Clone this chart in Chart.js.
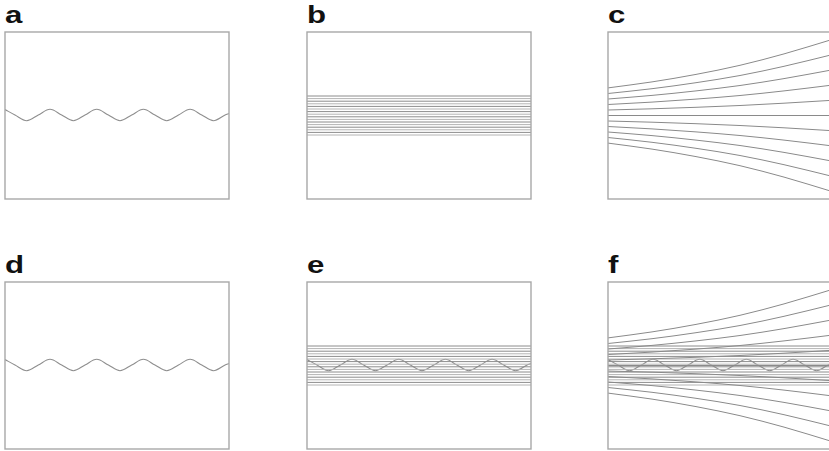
<!DOCTYPE html>
<html>
<head>
<meta charset="utf-8">
<script src="https://cdn.jsdelivr.net/npm/chart.js@4.4.1/dist/chart.umd.min.js"></script>
<style>
  html, body { margin: 0; padding: 0; background: #fff; overflow: hidden; }
  body { width: 829px; height: 451px; position: relative; }
  .lbl { position: absolute; font-family: "Liberation Sans", Arial, sans-serif; font-weight: bold;
         font-size: 24px; line-height: 24px; color: #111;
         transform: scaleX(1.3); transform-origin: 0 0; }
  canvas { position: absolute; }
</style>
</head>
<body>
<script>
// panel letters
var panelLabels = ["a", "b", "c", "d", "e", "f"];

var waveX = [0, 10, 21.7, 33.3, 45, 56.7, 68.4, 80, 91.7, 103.4, 115, 126.7, 138.4, 150, 161.7, 173.5, 185.1, 196.8, 208.5, 220.1, 224];
var waveY = [6, 0.5, -5.2, 0.5, 6.2, 0.5, -5.2, 0.5, 6.2, 0.5, -5.2, 0.5, 6.2, 0.5, -5.2, 0.5, 6.2, 0.5, -5.2, 0.5, 2];

// flat lines of panel b / e
var levelY = [19.5, 16.9, 14.3, 11.7, 9.1, 6.5, 3.9, 1.3, -1.3, -3.9, -6.5, -9.1, -11.7, -14.3, -16.9, -19.5];

// fanning curves of panel c / f
var curveX = [0, 44, 88, 132, 176, 224];
var fanCurves = [
  [27.6, 33.6, 41.1, 50.2, 61.6, 76.0],
  [22, 26.8, 32.8, 40.0, 49.2, 60.8],
  [16.5, 20.1, 24.6, 30.0, 36.9, 45.6],
  [11, 13.4, 16.4, 20.0, 24.6, 30.4],
  [5.5, 6.7, 8.2, 10.0, 12.3, 15.2],
  [0, 0, 0, 0, 0, 0],
  [-5.5, -6.7, -8.2, -10.0, -12.3, -15.2],
  [-11, -13.4, -16.4, -20.0, -24.6, -30.4],
  [-16.5, -20.1, -24.6, -30.0, -36.9, -45.6],
  [-22, -26.8, -32.8, -40.0, -49.2, -60.8],
  [-27.6, -33.6, -41.1, -50.2, -61.6, -76.0]
];

// what each panel shows
var panelParts = [["wave"], ["levels"], ["fan"], ["wave"], ["levels", "wave"], ["fan", "levels", "wave"]];

// box corners (left, top) on the page
var boxPos = [[5, 32], [307, 32], [608, 32], [5, 282], [307, 282], [608, 282]];
var BOX_W = 224, BOX_H = 167;

// frame round the plot area
var boxPlugin = {
  id: "box",
  afterDraw: function (chart) {
    var a = chart.chartArea, ctx = chart.ctx;
    ctx.save();
    ctx.strokeStyle = "#a8a8a8";
    ctx.lineWidth = 1.4;
    ctx.strokeRect(a.left, a.top, a.right - a.left, a.bottom - a.top);
    ctx.restore();
  }
};

function waveSet() {
  return {
    data: waveX.map(function (x, i) { return { x: x, y: waveY[i] }; }),
    borderColor: "#8e8e8e", borderWidth: 1.1, cubicInterpolationMode: "monotone"
  };
}

function levelSets() {
  return levelY.map(function (v, i) {
    return {
      data: [{ x: 0, y: v }, { x: BOX_W, y: v }],
      borderColor: i % 2 ? "#b4b4b4" : "#8c8c8c", borderWidth: 1
    };
  });
}

function fanSets() {
  return fanCurves.map(function (row) {
    return {
      data: row.map(function (y, i) { return { x: curveX[i], y: y }; }),
      borderColor: "#8a8a8a", borderWidth: 1, cubicInterpolationMode: "monotone"
    };
  });
}

panelLabels.forEach(function (txt, p) {
  var left = boxPos[p][0], top = boxPos[p][1];

  var lbl = document.createElement("div");
  lbl.className = "lbl";
  lbl.textContent = txt;
  lbl.style.left = left + "px";
  lbl.style.top = (top - 29) + "px";
  document.body.appendChild(lbl);

  var cv = document.createElement("canvas");
  cv.width = BOX_W + 2;
  cv.height = BOX_H + 2;
  cv.style.left = (left - 1) + "px";
  cv.style.top = (top - 1) + "px";
  document.body.appendChild(cv);

  var sets = [];
  panelParts[p].forEach(function (part) {
    if (part === "wave") sets.push(waveSet());
    if (part === "levels") sets = sets.concat(levelSets());
    if (part === "fan") sets = sets.concat(fanSets());
  });

  new Chart(cv.getContext("2d"), {
    type: "line",
    data: { datasets: sets },
    plugins: [boxPlugin],
    options: {
      responsive: false,
      animation: false,
      events: [],
      layout: { padding: 1 },
      plugins: { legend: { display: false }, tooltip: { enabled: false } },
      elements: { point: { radius: 0 }, line: { tension: 0, fill: false } },
      scales: {
        x: { type: "linear", min: 0, max: BOX_W, display: false },
        y: { type: "linear", min: -BOX_H / 2, max: BOX_H / 2, display: false }
      }
    }
  });
});
</script>
</body>
</html>
